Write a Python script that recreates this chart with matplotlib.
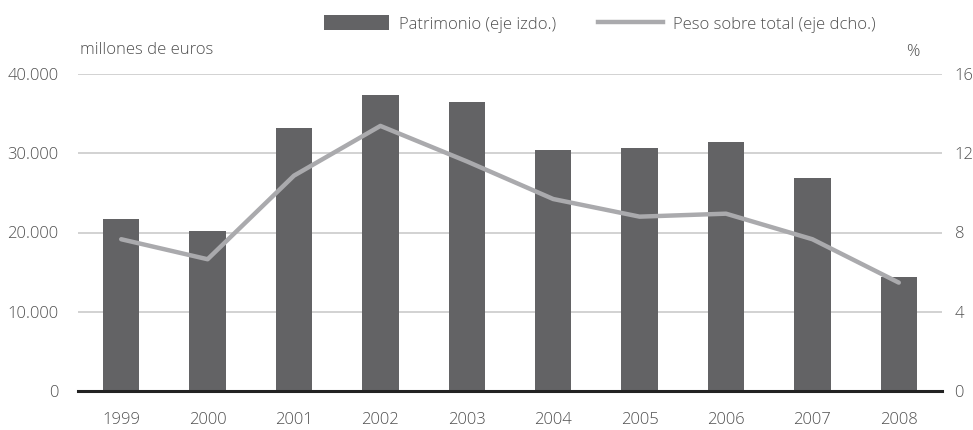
import matplotlib
matplotlib.use("Agg")
import matplotlib.pyplot as plt
from matplotlib.patches import Patch
from matplotlib.lines import Line2D
import numpy as np

years = ["1999", "2000", "2001", "2002", "2003", "2004", "2005", "2006", "2007", "2008"]
patrimonio = [21700, 20200, 33200, 37300, 36500, 30400, 30700, 31400, 26900, 14400]
peso = [7.66, 6.65, 10.87, 13.38, 11.59, 9.69, 8.80, 8.95, 7.66, 5.47]
left_ticks = [0, 10000, 20000, 30000, 40000]
left_labels = ["0", "10.000", "20.000", "30.000", "40.000"]
right_ticks = [0, 4, 8, 12, 16]
right_labels = ["0", "4", "8", "12", "16"]

plt.rcParams['font.family'] = ['Open Sans', 'DejaVu Sans']
plt.rcParams['font.weight'] = 'light'
txt = "#505050"
bar_c = "#636365"
line_c = "#aaaaad"
fs = 12

fig = plt.figure(figsize=(9.73, 4.30), dpi=100)
W, H = 973, 430
ax = fig.add_axes([78 / W, 1 - 391 / H, (942 - 78) / W, (391 - 74) / H])
x = np.arange(len(years))
ax.bar(x, patrimonio, width=0.42, color=bar_c, zorder=2)
ax.set_xlim(-0.5, len(years) - 0.5)
ax.set_ylim(0, 40000)
ax.set_yticks(left_ticks)
ax.set_yticklabels(left_labels)
ax.set_xticks(x)
ax.set_xticklabels(years)
for t in left_ticks[1:]:
    ax.axhline(t, color="#cfcfcf", lw=1.3, zorder=1)
for s in ["top", "right", "left"]:
    ax.spines[s].set_visible(False)
ax.spines["bottom"].set_color("#222222")
ax.spines["bottom"].set_linewidth(2.2)
ax.spines["bottom"].set_zorder(5)
ax.tick_params(axis="y", length=0, pad=14, labelsize=fs, labelcolor=txt)
ax.tick_params(axis="x", length=0, pad=15, labelsize=fs, labelcolor=txt)

ax2 = ax.twinx()
ax2.plot(x, peso, color=line_c, lw=3.2, zorder=3, solid_capstyle="round")
ax2.set_ylim(0, 16)
ax2.set_yticks(right_ticks)
ax2.set_yticklabels(right_labels)
for s in ["top", "right", "left", "bottom"]:
    ax2.spines[s].set_visible(False)
ax2.tick_params(axis="y", length=0, pad=9, labelsize=fs, labelcolor=txt)

fig.text(80 / W, 1 - 50 / H, "millones de euros", fontsize=fs, color=txt, va="center", ha="left")
fig.text(913 / W, 1 - 52 / H, "%", fontsize=fs, color=txt, va="center", ha="center")

handles = [Patch(facecolor=bar_c, edgecolor="none"),
           Line2D([0], [0], color=line_c, lw=3.2)]
leg = fig.legend(handles, ["Patrimonio (eje izdo.)", "Peso sobre total (eje dcho.)"],
                 loc="center", bbox_to_anchor=(600 / W, 1 - 24 / H), ncol=2, frameon=False,
                 fontsize=fs, handlelength=3.9, handleheight=1.0, columnspacing=2.5,
                 handletextpad=0.6, labelcolor=txt)

fig.savefig("out.png", dpi=100)
